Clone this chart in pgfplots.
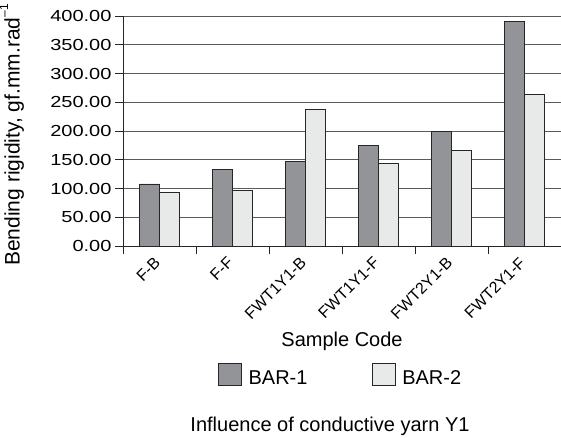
\documentclass[border=0pt]{standalone}
\usepackage{fontspec}
\setmainfont{Liberation Sans}
\newfontfamily\tickfont{Liberation Sans}[FakeStretch=1.25]
\usepackage{pgfplots}
\pgfplotsset{compat=1.18}

\definecolor{barone}{HTML}{939498}
\definecolor{bartwo}{HTML}{E8EAE9}
\definecolor{gridgray}{HTML}{5A5A5A}

\begin{document}
\begin{tikzpicture}
  \begin{axis}[
    name=ax,
    scale only axis,
    width=438pt, height=230pt,
    ybar=0pt, bar width=20pt,
    ymin=0, ymax=400,
    xmin=-0.5, xmax=5.5,
    ytick={0,50,...,400},
    xtick={0,...,5},
    xticklabels={F-B,F-F,FWT1Y1-B,FWT1Y1-F,FWT2Y1-B,FWT2Y1-F},
    minor xtick={-0.5,0.5,...,5.5},
    axis x line*=bottom, axis y line*=left,
    axis line style={black!85, line width=0.8pt},
    tick align=outside,
    major tick length=8pt, minor tick length=8pt,
    x tick style={draw=none},
    minor x tick style={draw=black!85, line width=0.8pt},
    y tick style={black!85, line width=0.8pt},
    ymajorgrids,
    major grid style={gridgray, line width=0.8pt},
    /pgf/number format/assume math mode=true,
    yticklabel style={font=\tickfont\fontsize{16}{19}\selectfont,
      /pgf/number format/.cd, fixed, fixed zerofill, precision=2},
    yticklabel={\pgfmathprintnumber{\tick}},
    xticklabel style={font=\fontsize{16}{19}\selectfont, inner sep=0pt,
      anchor=north east, xshift=-6pt, yshift=-2pt, rotate=45},
    every axis y label/.style={at={(axis description cs:-0.2534,0.483)},
      rotate=90, anchor=center},
    every axis x label/.style={at={(axis description cs:0.5,-0.415)},
      anchor=center},
    ylabel={\fontsize{21}{25}\selectfont Bending rigidity, gf.mm.rad\raisebox{0.55em}{\fontsize{12}{14}\selectfont –1}},
    xlabel={\fontsize{20}{24}\selectfont Sample Code},
    title={\fontsize{20}{24}\selectfont Influence of conductive yarn Y1},
    title style={at={(axis description cs:0.4726,-0.808)}, anchor=center},
    legend style={at={(axis description cs:0.4966,-0.562)}, anchor=center,
      draw=none, fill=none, legend columns=2,
      font=\fontsize{20}{24}\selectfont,
      /tikz/every odd column/.append style={column sep=5pt},
      /tikz/every even column/.append style={column sep=62pt}},
    legend image code/.code={\draw[#1] (0pt,-7pt) rectangle (23pt,15pt);},
    legend cell align=left,
  ]
    \addplot[fill=barone, draw=black!85, line width=0.8pt] coordinates {
      (0,108) (1,133) (2,147) (3,175) (4,200) (5,390)
    };
    \addplot[fill=bartwo, draw=black!85, line width=0.8pt] coordinates {
      (0,94) (1,96) (2,237) (3,143) (4,166) (5,264)
    };
    \legend{BAR-1,BAR-2}
  \end{axis}
  \pgfresetboundingbox
  \path[use as bounding box] ([shift={(-123pt,-191pt)}]ax.south west)
    rectangle ([shift={(0pt,16pt)}]ax.north east);
\end{tikzpicture}
\end{document}
